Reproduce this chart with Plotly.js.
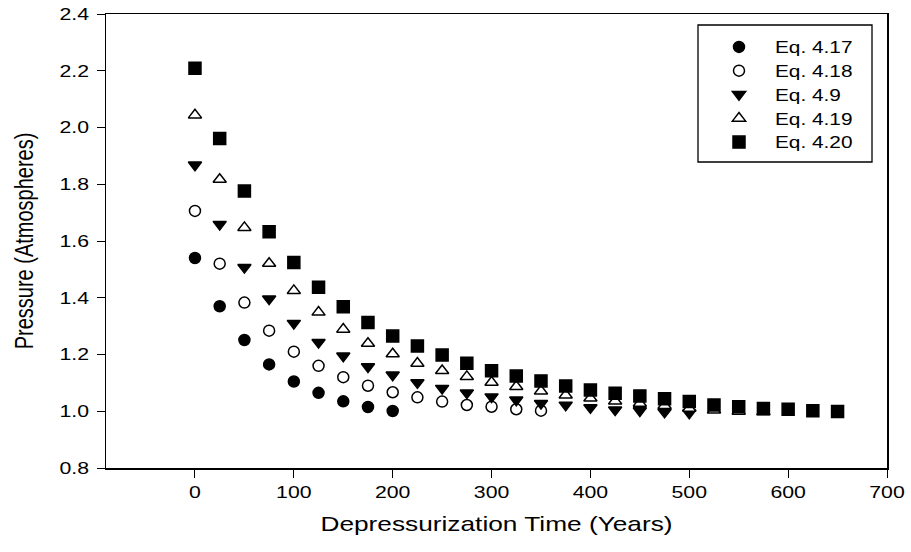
<!DOCTYPE html>
<html>
<head>
<meta charset="utf-8">
<script src="https://cdn.plot.ly/plotly-3.0.1.min.js"></script>
<style>
html,body{margin:0;padding:0;background:#fff;}
#chart{width:911px;height:552px;}
</style>
</head>
<body>
<div id="chart"></div>
<script>
// Depressurization time (years) for each series
const time417 = [0, 25, 50, 75, 100, 125, 150, 175, 200];
const time418 = [0, 25, 50, 75, 100, 125, 150, 175, 200, 225, 250, 275, 300, 325, 350];
const time49  = [0, 25, 50, 75, 100, 125, 150, 175, 200, 225, 250, 275, 300, 325, 350, 375, 400, 425, 450, 475, 500];
const time419 = [0, 25, 50, 75, 100, 125, 150, 175, 200, 225, 250, 275, 300, 325, 350, 375, 400, 425, 450, 475, 500, 525, 550, 575];
const time420 = [0, 25, 50, 75, 100, 125, 150, 175, 200, 225, 250, 275, 300, 325, 350, 375, 400, 425, 450, 475, 500, 525, 550, 575, 600, 625, 650];

// Pressure (atmospheres)
const p417 = [1.540, 1.370, 1.251, 1.165, 1.105, 1.065, 1.035, 1.015, 1.001];
const p418 = [1.706, 1.520, 1.383, 1.284, 1.210, 1.160, 1.120, 1.090, 1.067, 1.049, 1.034, 1.022, 1.016, 1.007, 1.002];
const p49  = [1.868, 1.659, 1.507, 1.396, 1.310, 1.243, 1.195, 1.157, 1.128, 1.101, 1.081, 1.065, 1.051, 1.040, 1.028, 1.022, 1.013, 1.005, 1.002, 0.997, 0.994];
const p419 = [2.044, 1.817, 1.647, 1.521, 1.425, 1.349, 1.289, 1.239, 1.202, 1.169, 1.143, 1.122, 1.102, 1.087, 1.071, 1.057, 1.046, 1.036, 1.028, 1.020, 1.010, 1.004, 1.000, 0.998];
const p420 = [2.209, 1.961, 1.776, 1.633, 1.524, 1.437, 1.368, 1.313, 1.265, 1.230, 1.198, 1.169, 1.143, 1.124, 1.107, 1.089, 1.075, 1.063, 1.054, 1.044, 1.034, 1.022, 1.016, 1.010, 1.007, 1.002, 0.999];

const seriesNames = ["Eq. 4.17", "Eq. 4.18", "Eq. 4.9", "Eq. 4.19", "Eq. 4.20"];
const xTickVals = [0, 100, 200, 300, 400, 500, 600, 700];
const yTickVals = [0.8, 1.0, 1.2, 1.4, 1.6, 1.8, 2.0, 2.2, 2.4];

const FONT = "Liberation Sans, Arial, Helvetica, sans-serif";

function tr(x, y, name, symbol, fill, size) {
  return {
    type: "scatter", mode: "markers", x: x, y: y, name: name,
    marker: {symbol: symbol, size: size, color: fill, line: {color: "#000", width: 1.5}},
    cliponaxis: false
  };
}

const data = [
  tr(time417, p417, seriesNames[0], "circle", "#000", 11),
  tr(time418, p418, seriesNames[1], "circle", "#fff", 11),
  tr(time49,  p49,  seriesNames[2], "triangle-down", "#000", 11.5),
  tr(time419, p419, seriesNames[3], "triangle-up", "#fff", 11.5),
  tr(time420, p420, seriesNames[4], "square", "#000", 12)
];

const layout = {
  width: 911, height: 552,
  margin: {l: 106, r: 24, t: 14, b: 84},
  paper_bgcolor: "#fff", plot_bgcolor: "#fff",
  font: {family: FONT, size: 16, color: "#000"},
  showlegend: true,
  legend: {
    x: 0.7644, y: 0.9648, xanchor: "left", yanchor: "top",
    borderwidth: 0, bgcolor: "rgba(0,0,0,0)",
    font: {family: FONT, size: 16, color: "#000"},
    itemwidth: 62, tracegroupgap: 0
  },
  shapes: [{
    type: "rect", xref: "paper", yref: "paper",
    x0: 0.758, x1: 0.9808, y0: 0.674, y1: 0.9758,
    line: {color: "#000", width: 1.3}, fillcolor: "rgba(0,0,0,0)", layer: "above"
  }],
  xaxis: {
    range: [-90, 700], tickmode: "array", tickvals: xTickVals,
    ticks: "outside", ticklen: 8, tickwidth: 1, tickcolor: "#000",
    showline: true, linecolor: "#000", linewidth: 1.5, mirror: true,
    showgrid: false, zeroline: false,
    tickfont: {family: FONT, size: 17, color: "#000"},
    title: {text: "Depressurization Time (Years)", font: {family: FONT, size: 21, color: "#000"}, standoff: 15}
  },
  yaxis: {
    range: [0.8, 2.4], tickmode: "array", tickvals: yTickVals, tickformat: ".1f",
    ticks: "outside", ticklen: 8, tickwidth: 1, tickcolor: "#000",
    showline: true, linecolor: "#000", linewidth: 1.5, mirror: true,
    showgrid: false, zeroline: false, ticklabelstandoff: 4,
    tickfont: {family: FONT, size: 17, color: "#000"},
    title: {text: "Pressure (Atmospheres)", font: {family: FONT, size: 20, color: "#000"}, standoff: 26}
  }
};

// The reference picture is horizontally widened; widen the horizontal text to match.
function widen(selector, k) {
  document.querySelectorAll(selector).forEach(function (t) {
    const w = t.getComputedTextLength();
    if (w > 0) {
      t.setAttribute("textLength", (w * k).toFixed(2));
      t.setAttribute("lengthAdjust", "spacingAndGlyphs");
    }
  });
}

Plotly.newPlot("chart", data, layout, {displayModeBar: false, staticPlot: true}).then(function () {
  // let the widened legend text show in full
  document.querySelectorAll(".legend [clip-path]").forEach(function (e) { e.removeAttribute("clip-path"); });
  widen(".xtick text", 1.25);
  widen(".ytick text", 1.25);
  widen(".legendtext", 1.3);
  widen(".g-xtitle text", 1.25);
  const yt = document.querySelector(".g-ytitle text");
  if (yt) {
    const cx = parseFloat(yt.getAttribute("x")), cy = parseFloat(yt.getAttribute("y"));
    const tf = yt.getAttribute("transform") || "";
    yt.setAttribute("transform",
      "translate(" + cx + "," + cy + ") scale(1.25,1) translate(" + (-cx) + "," + (-cy) + ") " + tf);
  }
});
</script>
</body>
</html>
